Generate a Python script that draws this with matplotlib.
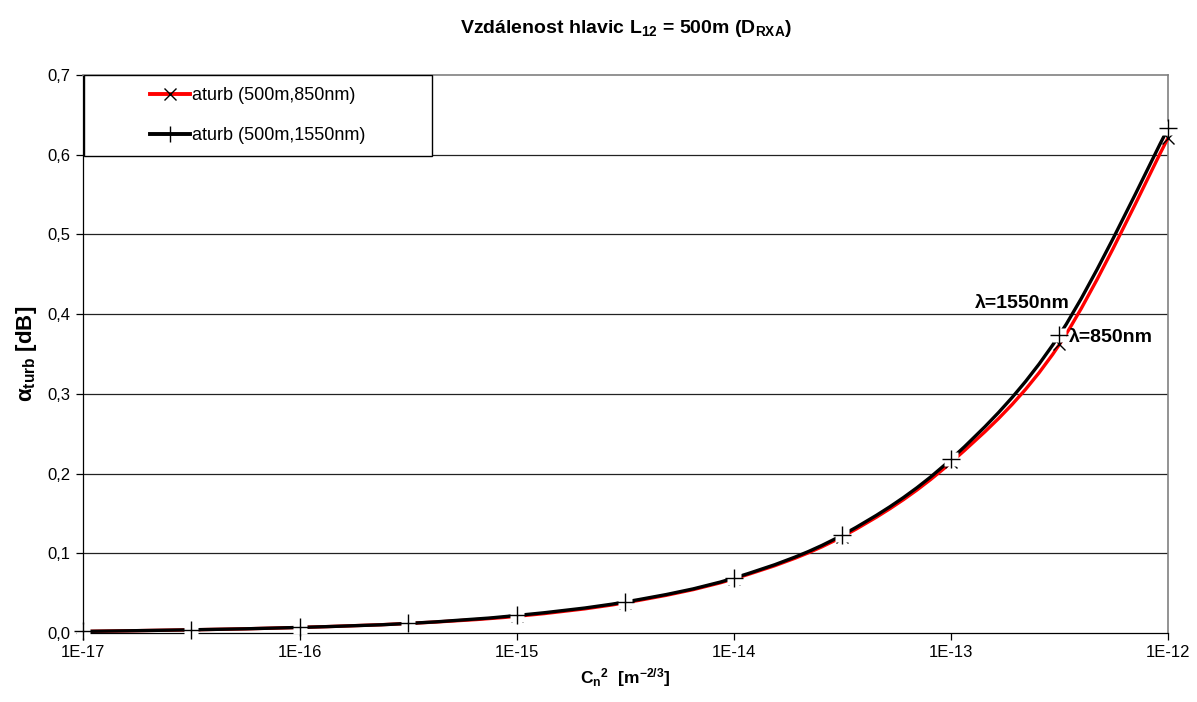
import numpy as np
import matplotlib
matplotlib.use("Agg")
import matplotlib.pyplot as plt
from matplotlib.path import Path
from matplotlib.patches import PathPatch, Rectangle
from matplotlib.lines import Line2D
from matplotlib.ticker import FuncFormatter

plt.rcParams['font.family'] = ['Liberation Sans', 'DejaVu Sans']
plt.rcParams['mathtext.fontset'] = 'custom'
plt.rcParams['mathtext.rm'] = 'Liberation Sans'
plt.rcParams['mathtext.bf'] = 'Liberation Sans:bold'
plt.rcParams['mathtext.it'] = 'Liberation Sans:italic'

# structure parameter Cn^2, half-decade steps
cn2 = [1e-17, 3.16e-17, 1e-16, 3.16e-16, 1e-15, 3.16e-15,
       1e-14, 3.16e-14, 1e-13, 3.16e-13, 1e-12]
# turbulence attenuation [dB]
a_850 = [0.002, 0.004, 0.007, 0.012, 0.021, 0.038, 0.068, 0.121, 0.214, 0.362, 0.621]
a_1550 = [0.002, 0.004, 0.007, 0.012, 0.022, 0.039, 0.069, 0.123, 0.218, 0.374, 0.633]

xtick_vals = [1e-17, 1e-16, 1e-15, 1e-14, 1e-13, 1e-12]
xtick_labels = ["1E-17", "1E-16", "1E-15", "1E-14", "1E-13", "1E-12"]
ytick_vals = [0.0, 0.1, 0.2, 0.3, 0.4, 0.5, 0.6, 0.7]


def smooth_path(xs, ys):
    # smoothed line: cubic Bezier segments built in log10(x) space
    lx = np.log10(xs)
    y = np.asarray(ys, dtype=float)
    pts = np.column_stack([lx, y])
    n = len(pts)
    verts = [pts[0]]
    codes = [Path.MOVETO]
    for i in range(n - 1):
        p0 = pts[max(i - 1, 0)]
        p1 = pts[i]
        p2 = pts[i + 1]
        p3 = pts[min(i + 2, n - 1)]
        c1 = p1 + (p2 - p0) / 6.0
        c2 = p2 - (p3 - p1) / 6.0
        verts += [c1, c2, p2]
        codes += [Path.CURVE4] * 3
    verts = np.array(verts)
    verts[:, 0] = 10 ** verts[:, 0]
    return Path(verts, codes)


fig = plt.figure(figsize=(11.97, 7.02), dpi=100)
ax = fig.add_axes([0.0693, 0.0983, 0.9065, 0.7949])

ax.set_xscale('log')
ax.set_xlim(1e-17, 1e-12)
ax.set_ylim(0, 0.7)

for yv in ytick_vals[1:-1]:
    ax.axhline(yv, color='#222222', lw=0.9, zorder=1)

# 850 nm series: line then markers
ax.add_patch(PathPatch(smooth_path(cn2, a_850), facecolor='none',
                       edgecolor='#ff0000', lw=2.4, zorder=3, clip_on=False))
ax.plot(cn2, a_850, ls='none', marker='x', ms=9, mec='black', mew=1.0,
        zorder=4, clip_on=False)
# 1550 nm series drawn on top, markers with white backing
ax.add_patch(PathPatch(smooth_path(cn2, a_1550), facecolor='none',
                       edgecolor='black', lw=2.4, zorder=5, clip_on=False))
ax.plot(cn2, a_1550, ls='none', marker='s', ms=10, mfc='white', mec='none',
        zorder=6, clip_on=False)
ax.plot(cn2, a_1550, ls='none', marker='+', ms=13, mec='black', mew=1.0,
        zorder=7, clip_on=False)

ax.set_xticks(xtick_vals)
ax.set_xticklabels(xtick_labels)
ax.xaxis.set_minor_locator(matplotlib.ticker.NullLocator())
ax.set_yticks(ytick_vals)
ax.yaxis.set_major_formatter(FuncFormatter(lambda v, p: f"{v:.1f}".replace('.', ',')))
ax.tick_params(axis='both', labelsize=12, length=5, width=0.9, direction='out',
               color='black', pad=4)

for s in ['top', 'right']:
    ax.spines[s].set_color('#808080')
    ax.spines[s].set_linewidth(1.2)
for s in ['left', 'bottom']:
    ax.spines[s].set_color('black')
    ax.spines[s].set_linewidth(0.9)

ax.set_title(r"Vzdálenost hlavic L$_\mathbf{12}$ = 500m (D$_\mathbf{RXA}$)",
             fontsize=14, fontweight='bold', pad=30)
ax.set_xlabel(r"C$_\mathbf{n}$$^\mathbf{2}$  [m$^\mathbf{-2/3}$]", fontsize=12.5,
              fontweight='bold', labelpad=4)
ax.set_ylabel(r"$\mathbf{\alpha}_\mathbf{turb}$ [dB]", fontsize=16,
              fontweight='bold', labelpad=6)

ax.text(0.909, 0.591, "λ=1550nm", transform=ax.transAxes, ha='right',
        va='center', fontsize=14, fontweight='bold', zorder=8)
ax.text(0.909, 0.529, "λ=850nm", transform=ax.transAxes, ha='left',
        va='center', fontsize=14, fontweight='bold', zorder=8)

# legend frame and entries
ax.add_patch(Rectangle((0.001, 0.855), 0.321, 0.145, transform=ax.transAxes,
                       facecolor='white', edgecolor='black', lw=1.0, zorder=9))
handles = [
    Line2D([], [], color='#ff0000', lw=2.8, marker='x', ms=9, mec='black', mew=1.0),
    Line2D([], [], color='black', lw=2.8, marker='+', ms=12, mec='black', mew=1.0),
]
leg = ax.legend(handles, ["aturb (500m,850nm)", "aturb (500m,1550nm)"],
                loc='center', bbox_to_anchor=(0.161, 0.927), frameon=False,
                fontsize=13, handlelength=2.2, handletextpad=0.1,
                labelspacing=1.25)
leg.set_zorder(10)

fig.savefig("out.png", dpi=100, facecolor='white')
